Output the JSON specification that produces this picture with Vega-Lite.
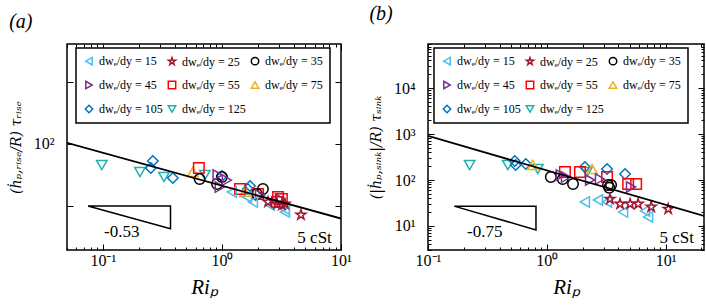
{
  "$schema": "https://vega.github.io/schema/vega-lite/v6.json",
  "padding": {"left": 8, "top": 3, "right": 0, "bottom": 0},
  "background": "white",
  "bounds": "flush",
  "spacing": 87,
  "datasets": {
    "ptsA": [
      {"x": 0.098, "y": 45.8, "s": "125"}, {"x": 0.205, "y": 35.3, "s": "125"}, {"x": 0.326, "y": 29.4, "s": "125"}, {"x": 0.72, "y": 31.6, "s": "125"},
      {"x": 0.263, "y": 53.2, "s": "105"}, {"x": 0.253, "y": 41.0, "s": "105"}, {"x": 0.387, "y": 28.3, "s": "105"}, {"x": 1.0, "y": 30.5, "s": "105"}, {"x": 1.72, "y": 21.0, "s": "105"}, {"x": 1.65, "y": 18.8, "s": "105"},
      {"x": 0.57, "y": 35.3, "s": "75"}, {"x": 1.56, "y": 16.8, "s": "75"},
      {"x": 0.64, "y": 41.0, "s": "55"}, {"x": 1.42, "y": 18.8, "s": "55"}, {"x": 2.01, "y": 15.6, "s": "55"}, {"x": 2.96, "y": 14.0, "s": "55"}, {"x": 3.19, "y": 13.0, "s": "55"}, {"x": 2.9, "y": 11.6, "s": "55"},
      {"x": 0.65, "y": 27.2, "s": "35"}, {"x": 1.0, "y": 29.4, "s": "35"}, {"x": 0.91, "y": 22.6, "s": "35"}, {"x": 2.21, "y": 18.8, "s": "35"}, {"x": 1.97, "y": 15.6, "s": "35"},
      {"x": 0.92, "y": 31.6, "s": "45"}, {"x": 1.1, "y": 26.2, "s": "45"}, {"x": 0.96, "y": 20.2, "s": "45"}, {"x": 2.09, "y": 15.0, "s": "45"}, {"x": 3.07, "y": 13.0, "s": "45"},
      {"x": 1.21, "y": 16.8, "s": "15"}, {"x": 1.62, "y": 14.0, "s": "15"}, {"x": 1.82, "y": 11.6, "s": "15"}, {"x": 2.53, "y": 10.4, "s": "15"}, {"x": 3.38, "y": 8.0, "s": "15"}, {"x": 3.38, "y": 8.9, "s": "15"},
      {"x": 2.44, "y": 11.6, "s": "25"}, {"x": 2.9, "y": 10.8, "s": "25"}, {"x": 3.19, "y": 10.4, "s": "25"}, {"x": 3.38, "y": 10.8, "s": "25"}, {"x": 4.61, "y": 7.2, "s": "25"}
    ],
    "ptsB": [
      {"x": 0.224, "y": 212, "s": "125"}, {"x": 0.469, "y": 212, "s": "125"}, {"x": 0.84, "y": 173, "s": "125"}, {"x": 2.17, "y": 149, "s": "125"},
      {"x": 0.537, "y": 259, "s": "105"}, {"x": 0.547, "y": 212, "s": "105"}, {"x": 0.665, "y": 223, "s": "105"}, {"x": 2.09, "y": 192, "s": "105"}, {"x": 3.21, "y": 173, "s": "105"}, {"x": 4.55, "y": 135, "s": "105"},
      {"x": 0.76, "y": 212, "s": "75"}, {"x": 2.4, "y": 173, "s": "75"},
      {"x": 1.42, "y": 149, "s": "55"}, {"x": 1.9, "y": 149, "s": "55"}, {"x": 3.21, "y": 116, "s": "55"}, {"x": 4.83, "y": 81.8, "s": "55"}, {"x": 5.64, "y": 81.8, "s": "55"},
      {"x": 1.08, "y": 116, "s": "35"}, {"x": 1.36, "y": 105, "s": "35"}, {"x": 1.66, "y": 81.8, "s": "35"}, {"x": 3.27, "y": 77.9, "s": "35"}, {"x": 3.47, "y": 77.9, "s": "35"}, {"x": 3.35, "y": 68, "s": "35"},
      {"x": 1.31, "y": 128, "s": "45"}, {"x": 1.45, "y": 116, "s": "45"}, {"x": 2.8, "y": 105, "s": "45"}, {"x": 2.31, "y": 100, "s": "45"}, {"x": 5.11, "y": 70.5, "s": "45"},
      {"x": 2.09, "y": 33.3, "s": "15"}, {"x": 2.69, "y": 36.7, "s": "15"}, {"x": 3.21, "y": 33.3, "s": "15"}, {"x": 4.38, "y": 20.1, "s": "15"}, {"x": 6.71, "y": 21.2, "s": "15"}, {"x": 7.11, "y": 15.7, "s": "15"},
      {"x": 3.4, "y": 38.6, "s": "25"}, {"x": 4.13, "y": 30.1, "s": "25"}, {"x": 5.02, "y": 30.1, "s": "25"}, {"x": 5.86, "y": 30.1, "s": "25"}, {"x": 7.55, "y": 25.9, "s": "25"}, {"x": 10.5, "y": 23.4, "s": "25"}
    ],
    "fitA": [{"x": 0.05, "y": 104}, {"x": 10, "y": 6.27}],
    "fitB": [{"x": 0.1, "y": 910}, {"x": 21, "y": 16.5}],
    "triA": [{"x": 0.075, "y": 10, "o": 1}, {"x": 0.37, "y": 10, "o": 2}, {"x": 0.37, "y": 4.29, "o": 3}, {"x": 0.075, "y": 10, "o": 4}],
    "triB": [{"x": 0.166, "y": 27, "o": 1}, {"x": 0.81, "y": 27, "o": 2}, {"x": 0.81, "y": 8.2, "o": 3}, {"x": 0.166, "y": 27, "o": 4}],
    "txtA": [{"x": 0.144, "y": 3.8, "t": "-0.53"}, {"x": 6.0, "y": 3.0, "t": "5 cSt"}],
    "txtB": [{"x": 0.30, "y": 7.4, "t": "-0.75"}, {"x": 12.4, "y": 5.5, "t": "5 cSt"}]
  },
  "hconcat": [
    {
      "width": 274,
      "height": 206,
      "title": {"text": "(a)", "anchor": "start", "frame": "bounds", "fontSize": 20, "font": "Liberation Serif", "fontStyle": "italic", "fontWeight": "normal", "offset": 12, "color": "black"},
      "resolve": {"axis": {"x": "independent", "y": "independent"}},
      "layer": [
        {
          "data": {"name": "ptsA"},
          "mark": {"type": "point", "filled": false, "strokeWidth": 1.5, "size": 110, "opacity": 1},
          "encoding": {
            "x": {"field": "x", "type": "quantitative", "scale": {"type": "log", "domain": [0.05, 10], "nice": false},
              "axis": {"orient": "bottom", "values": [0.05, 0.06, 0.07, 0.08, 0.09, 0.1, 0.2, 0.3, 0.4, 0.5, 0.6, 0.7, 0.8, 0.9, 1, 2, 3, 4, 5, 6, 7, 8, 9, 10],
                "labelExpr": "abs(log(datum.value)/LN10 - round(log(datum.value)/LN10)) < 0.001 ? '10' + ['⁻¹','⁰','¹','²','³','⁴'][round(log(datum.value)/LN10)+1] : ''",
                "tickSize": {"condition": {"test": "abs(log(datum.value)/LN10 - round(log(datum.value)/LN10)) < 0.001", "value": -6}, "value": -3},
                "labelPadding": 8,
                "title": "Riₚ", "titleFontSize": 21, "titleFontStyle": "italic", "titlePadding": 5}},
            "y": {"field": "y", "type": "quantitative", "scale": {"type": "log", "domain": [1.95, 4100], "nice": false},
              "axis": {"orient": "left", "values": [10, 100, 1000], "labelExpr": "datum.value == 100 ? '10²' : ''", "tickSize": -6, "labelPadding": 19,
                "title": "(ḣₚ,ᵣᵢₛₑ/R) τᵣᵢₛₑ", "titleFont": "DejaVu Serif", "titleFontSize": 14, "titleFontStyle": "italic", "titlePadding": 10}},
            "color": {"field": "s", "type": "nominal",
              "scale": {"domain": ["15", "45", "105", "25", "55", "125", "35", "75"], "range": ["#4DBEEE", "#7E2F8E", "#0072BD", "#A2142F", "#FF0000", "#20B2AA", "#000000", "#EDB120"]},
              "legend": {"orient": "none", "legendX": 9, "legendY": 4, "columns": 3, "title": null, "labelExpr": "'dwₑ/dy = ' + datum.label"}},
            "shape": {"field": "s", "type": "nominal",
              "scale": {"domain": ["15", "45", "105", "25", "55", "125", "35", "75"], "range": ["triangle-left", "triangle-right", "diamond", "M0,-1L0.2245,-0.309L0.951,-0.309L0.363,0.118L0.588,0.809L0,0.382L-0.588,0.809L-0.363,0.118L-0.951,-0.309L-0.2245,-0.309Z", "square", "triangle-down", "circle", "triangle-up"]},
              "legend": {"orient": "none", "legendX": 9, "legendY": 4, "columns": 3, "title": null, "labelExpr": "'dwₑ/dy = ' + datum.label"}}
          }
        },
        {
          "data": {"name": "fitA"},
          "mark": {"type": "line", "color": "black", "strokeWidth": 1.8, "clip": true},
          "encoding": {
            "x": {"field": "x", "type": "quantitative", "axis": {"orient": "top", "values": [0.05, 0.06, 0.07, 0.08, 0.09, 0.1, 0.2, 0.3, 0.4, 0.5, 0.6, 0.7, 0.8, 0.9, 1, 2, 3, 4, 5, 6, 7, 8, 9, 10], "labels": false, "title": null,
              "tickSize": {"condition": {"test": "abs(log(datum.value)/LN10 - round(log(datum.value)/LN10)) < 0.001", "value": -6}, "value": -3}}},
            "y": {"field": "y", "type": "quantitative", "axis": {"orient": "right", "values": [10, 100, 1000], "labels": false, "title": null, "tickSize": -6}}
          }
        },
        {
          "data": {"name": "triA"},
          "mark": {"type": "line", "color": "black", "strokeWidth": 1.5},
          "encoding": {
            "x": {"field": "x", "type": "quantitative", "axis": null},
            "y": {"field": "y", "type": "quantitative", "axis": null},
            "order": {"field": "o", "type": "quantitative"}
          }
        },
        {
          "data": {"name": "txtA"},
          "mark": {"type": "text", "font": "Liberation Serif", "fontSize": 17, "color": "black", "align": "center", "baseline": "middle"},
          "encoding": {
            "x": {"field": "x", "type": "quantitative", "axis": null},
            "y": {"field": "y", "type": "quantitative", "axis": null},
            "text": {"field": "t"}
          }
        }
      ]
    },
    {
      "width": 276,
      "height": 206,
      "title": {"text": "(b)", "anchor": "start", "frame": "bounds", "fontSize": 20, "font": "Liberation Serif", "fontStyle": "italic", "fontWeight": "normal", "offset": 12, "color": "black"},
      "resolve": {"axis": {"x": "independent", "y": "independent"}},
      "layer": [
        {
          "data": {"name": "ptsB"},
          "mark": {"type": "point", "filled": false, "strokeWidth": 1.5, "size": 110, "opacity": 1},
          "encoding": {
            "x": {"field": "x", "type": "quantitative", "scale": {"type": "log", "domain": [0.1, 21], "nice": false},
              "axis": {"orient": "bottom", "values": [0.1, 0.2, 0.3, 0.4, 0.5, 0.6, 0.7, 0.8, 0.9, 1, 2, 3, 4, 5, 6, 7, 8, 9, 10, 20],
                "labelExpr": "abs(log(datum.value)/LN10 - round(log(datum.value)/LN10)) < 0.001 ? '10' + ['⁻¹','⁰','¹','²','³','⁴'][round(log(datum.value)/LN10)+1] : ''",
                "tickSize": {"condition": {"test": "abs(log(datum.value)/LN10 - round(log(datum.value)/LN10)) < 0.001", "value": -6}, "value": -3},
                "labelPadding": 8,
                "title": "Riₚ", "titleFontSize": 21, "titleFontStyle": "italic", "titlePadding": 5}},
            "y": {"field": "y", "type": "quantitative", "scale": {"type": "log", "domain": [3, 91000], "nice": false},
              "axis": {"orient": "left", "values": [3, 4, 5, 6, 7, 8, 9, 10, 20, 30, 40, 50, 60, 70, 80, 90, 100, 200, 300, 400, 500, 600, 700, 800, 900, 1000, 2000, 3000, 4000, 5000, 6000, 7000, 8000, 9000, 10000, 20000, 30000, 40000, 50000, 60000, 70000, 80000, 90000],
                "labelExpr": "abs(log(datum.value)/LN10 - round(log(datum.value)/LN10)) < 0.001 ? '10' + ['⁻¹','⁰','¹','²','³','⁴'][round(log(datum.value)/LN10)+1] : ''",
                "tickSize": {"condition": {"test": "abs(log(datum.value)/LN10 - round(log(datum.value)/LN10)) < 0.001", "value": -6}, "value": -3},
                "labelPadding": 19,
                "title": "(|ḣₚ,ₛᵢₙₖ|/R) τₛᵢₙₖ", "titleFont": "DejaVu Serif", "titleFontSize": 14, "titleFontStyle": "italic", "titlePadding": 10}},
            "color": {"field": "s", "type": "nominal",
              "scale": {"domain": ["15", "45", "105", "25", "55", "125", "35", "75"], "range": ["#4DBEEE", "#7E2F8E", "#0072BD", "#A2142F", "#FF0000", "#20B2AA", "#000000", "#EDB120"]},
              "legend": {"orient": "none", "legendX": 6, "legendY": 4, "columns": 3, "title": null, "labelExpr": "'dwₑ/dy = ' + datum.label"}},
            "shape": {"field": "s", "type": "nominal",
              "scale": {"domain": ["15", "45", "105", "25", "55", "125", "35", "75"], "range": ["triangle-left", "triangle-right", "diamond", "M0,-1L0.2245,-0.309L0.951,-0.309L0.363,0.118L0.588,0.809L0,0.382L-0.588,0.809L-0.363,0.118L-0.951,-0.309L-0.2245,-0.309Z", "square", "triangle-down", "circle", "triangle-up"]},
              "legend": {"orient": "none", "legendX": 6, "legendY": 4, "columns": 3, "title": null, "labelExpr": "'dwₑ/dy = ' + datum.label"}}
          }
        },
        {
          "data": {"name": "fitB"},
          "mark": {"type": "line", "color": "black", "strokeWidth": 1.8, "clip": true},
          "encoding": {
            "x": {"field": "x", "type": "quantitative", "axis": {"orient": "top", "values": [0.1, 0.2, 0.3, 0.4, 0.5, 0.6, 0.7, 0.8, 0.9, 1, 2, 3, 4, 5, 6, 7, 8, 9, 10, 20], "labels": false, "title": null,
              "tickSize": {"condition": {"test": "abs(log(datum.value)/LN10 - round(log(datum.value)/LN10)) < 0.001", "value": -6}, "value": -3}}},
            "y": {"field": "y", "type": "quantitative", "axis": {"orient": "right", "values": [3, 4, 5, 6, 7, 8, 9, 10, 20, 30, 40, 50, 60, 70, 80, 90, 100, 200, 300, 400, 500, 600, 700, 800, 900, 1000, 2000, 3000, 4000, 5000, 6000, 7000, 8000, 9000, 10000, 20000, 30000, 40000, 50000, 60000, 70000, 80000, 90000], "labels": false, "title": null,
              "tickSize": {"condition": {"test": "abs(log(datum.value)/LN10 - round(log(datum.value)/LN10)) < 0.001", "value": -6}, "value": -3}}}
          }
        },
        {
          "data": {"name": "triB"},
          "mark": {"type": "line", "color": "black", "strokeWidth": 1.5},
          "encoding": {
            "x": {"field": "x", "type": "quantitative", "axis": null},
            "y": {"field": "y", "type": "quantitative", "axis": null},
            "order": {"field": "o", "type": "quantitative"}
          }
        },
        {
          "data": {"name": "txtB"},
          "mark": {"type": "text", "font": "Liberation Serif", "fontSize": 17, "color": "black", "align": "center", "baseline": "middle"},
          "encoding": {
            "x": {"field": "x", "type": "quantitative", "axis": null},
            "y": {"field": "y", "type": "quantitative", "axis": null},
            "text": {"field": "t"}
          }
        }
      ]
    }
  ],
  "resolve": {"scale": {"color": "independent", "shape": "independent"}},
  "config": {
    "view": {"stroke": "black", "strokeWidth": 1.5},
    "font": "Liberation Serif",
    "axis": {"domain": false, "grid": false, "minExtent": 0, "tickColor": "black", "tickWidth": 1, "labelFont": "Liberation Serif", "labelFontSize": 16, "labelColor": "black", "labelFlush": false, "labelOverlap": false, "labelPadding": 10, "titleFont": "Liberation Serif", "titleFontWeight": "normal", "titleColor": "black"},
    "legend": {"strokeColor": "black", "strokeWidth": 1.5, "fillColor": "white", "padding": 7, "labelFont": "Liberation Serif", "labelFontSize": 12, "labelColor": "black", "symbolSize": 55, "symbolStrokeWidth": 1.5, "rowPadding": 10, "columnPadding": 2, "labelOffset": 4}
  }
}
